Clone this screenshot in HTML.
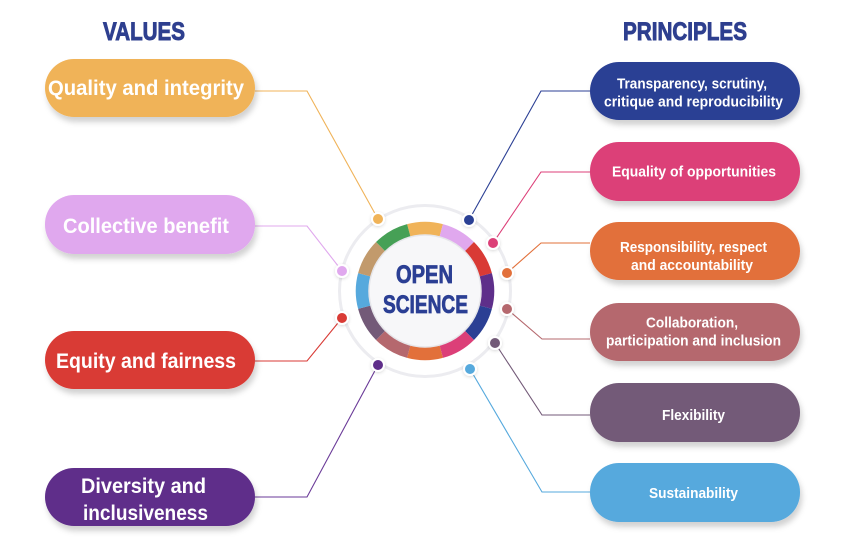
<!DOCTYPE html>
<html><head><meta charset="utf-8"><style>
html,body{margin:0;padding:0;background:#fff;}
svg{display:block;}
text{font-family:"Liberation Sans",sans-serif;font-weight:bold;}
</style></head><body>
<svg width="860" height="551" viewBox="0 0 860 551" xmlns="http://www.w3.org/2000/svg">
<defs>
<filter id="sh" x="-10%" y="-20%" width="125%" height="160%">
<feDropShadow dx="2" dy="5" stdDeviation="3" flood-color="#000" flood-opacity="0.18"/>
</filter>
<filter id="sh2" x="-20%" y="-20%" width="140%" height="140%">
<feDropShadow dx="0" dy="1" stdDeviation="1.5" flood-color="#000" flood-opacity="0.15"/>
</filter>
</defs>
<rect width="860" height="551" fill="#fff"/>

<!-- headers -->
<text x="103" y="40" font-size="25" fill="#2e3f8f" stroke="#2e3f8f" stroke-width="0.9" textLength="82" lengthAdjust="spacingAndGlyphs">VALUES</text>
<text x="623" y="40" font-size="25" fill="#2e3f8f" stroke="#2e3f8f" stroke-width="0.9" textLength="124" lengthAdjust="spacingAndGlyphs">PRINCIPLES</text>

<!-- connectors -->
<g fill="none" stroke-width="1.1">
<polyline points="255,91 307,91 378,219" stroke="#f0b359"/>
<polyline points="255,226 307,226 342,271" stroke="#e0a8ee"/>
<polyline points="255,361 307,361 342,318" stroke="#d93a35"/>
<polyline points="255,497 307,497 378,365" stroke="#6a3a98"/>
<polyline points="590,91 541,91 469,220" stroke="#2b3f94"/>
<polyline points="590,172 541,172 493,243" stroke="#dc3f78"/>
<polyline points="590,243 541,243 507,273" stroke="#e2703a"/>
<polyline points="590,339 542,339 507,309" stroke="#b5686e"/>
<polyline points="590,415 542,415 495,343" stroke="#735a78"/>
<polyline points="590,492 542,492 470,369" stroke="#56a9dd"/>
</g>

<!-- center -->
<circle cx="425" cy="291" r="85.5" fill="none" stroke="#ececf0" stroke-width="3"/>
<g fill="none" stroke-width="13.5">
<circle cx="425" cy="291" r="62.5" stroke="#f0b359" stroke-dasharray="32.73 400" transform="rotate(-105 425 291)"/>
<circle cx="425" cy="291" r="62.5" stroke="#e0a8ee" stroke-dasharray="32.73 400" transform="rotate(-75 425 291)"/>
<circle cx="425" cy="291" r="62.5" stroke="#d93a35" stroke-dasharray="32.73 400" transform="rotate(-45 425 291)"/>
<circle cx="425" cy="291" r="62.5" stroke="#5e2f8a" stroke-dasharray="32.73 400" transform="rotate(-15 425 291)"/>
<circle cx="425" cy="291" r="62.5" stroke="#2b3f94" stroke-dasharray="32.73 400" transform="rotate(15 425 291)"/>
<circle cx="425" cy="291" r="62.5" stroke="#dc3f78" stroke-dasharray="32.73 400" transform="rotate(45 425 291)"/>
<circle cx="425" cy="291" r="62.5" stroke="#e2703a" stroke-dasharray="32.73 400" transform="rotate(75 425 291)"/>
<circle cx="425" cy="291" r="62.5" stroke="#b5686e" stroke-dasharray="32.73 400" transform="rotate(105 425 291)"/>
<circle cx="425" cy="291" r="62.5" stroke="#735a78" stroke-dasharray="32.73 400" transform="rotate(135 425 291)"/>
<circle cx="425" cy="291" r="62.5" stroke="#56a9dd" stroke-dasharray="32.73 400" transform="rotate(165 425 291)"/>
<circle cx="425" cy="291" r="62.5" stroke="#c29a6c" stroke-dasharray="32.73 400" transform="rotate(195 425 291)"/>
<circle cx="425" cy="291" r="62.5" stroke="#46a056" stroke-dasharray="32.73 400" transform="rotate(225 425 291)"/>
</g>
<circle cx="425" cy="291" r="56" fill="#f7f7f9" stroke="#e6e6ea" stroke-width="1.5"/>
<text x="396" y="283" font-size="25" fill="#2b3f94" stroke="#2b3f94" stroke-width="0.8" textLength="57" lengthAdjust="spacingAndGlyphs">OPEN</text>
<text x="383" y="313" font-size="25" fill="#2b3f94" stroke="#2b3f94" stroke-width="0.8" textLength="85" lengthAdjust="spacingAndGlyphs">SCIENCE</text>

<!-- dots -->
<g stroke="#fff" stroke-width="2" filter="url(#sh2)">
<circle cx="378" cy="219" r="6" fill="#f0b359"/>
<circle cx="342" cy="271" r="6" fill="#e0a8ee"/>
<circle cx="342" cy="318" r="6" fill="#d93a35"/>
<circle cx="378" cy="365" r="6" fill="#5e2f8a"/>
<circle cx="469" cy="220" r="6" fill="#2b3f94"/>
<circle cx="493" cy="243" r="6" fill="#dc3f78"/>
<circle cx="507" cy="273" r="6" fill="#e2703a"/>
<circle cx="507" cy="309" r="6" fill="#b5686e"/>
<circle cx="495" cy="343" r="6" fill="#735a78"/>
<circle cx="470" cy="369" r="6" fill="#56a9dd"/>
</g>

<!-- pills -->
<g filter="url(#sh)">
<rect x="45" y="59" width="210" height="58" rx="29" fill="#f0b359"/>
<rect x="45" y="195" width="210" height="59" rx="29" fill="#e0a8ee"/>
<rect x="45" y="331" width="210" height="58" rx="29" fill="#d93a35"/>
<rect x="45" y="468" width="210" height="58" rx="29" fill="#5e2f8a"/>
<rect x="590" y="62" width="210" height="58" rx="29" fill="#2b3f94"/>
<rect x="590" y="142" width="210" height="59" rx="29" fill="#dc3f78"/>
<rect x="590" y="222" width="210" height="58" rx="29" fill="#e2703a"/>
<rect x="590" y="303" width="210" height="58" rx="29" fill="#b5686e"/>
<rect x="590" y="383" width="210" height="59" rx="29" fill="#735a78"/>
<rect x="590" y="463" width="210" height="59" rx="29" fill="#56a9dd"/>
</g>

<g fill="#fff">
<text x="48" y="95" font-size="21" textLength="196" lengthAdjust="spacingAndGlyphs">Quality and integrity</text>
<text x="63" y="233" font-size="21" textLength="166" lengthAdjust="spacingAndGlyphs">Collective benefit</text>
<text x="56" y="368" font-size="21" textLength="180" lengthAdjust="spacingAndGlyphs">Equity and fairness</text>
<text x="81" y="493" font-size="21" textLength="125" lengthAdjust="spacingAndGlyphs">Diversity and</text>
<text x="83" y="520" font-size="21" textLength="125" lengthAdjust="spacingAndGlyphs">inclusiveness</text>

<text x="617" y="88.5" font-size="15" textLength="150" lengthAdjust="spacingAndGlyphs">Transparency, scrutiny,</text>
<text x="604" y="106.5" font-size="15" textLength="179" lengthAdjust="spacingAndGlyphs">critique and reproducibility</text>
<text x="612" y="176.5" font-size="15" textLength="164" lengthAdjust="spacingAndGlyphs">Equality of opportunities</text>
<text x="620" y="252" font-size="15" textLength="147" lengthAdjust="spacingAndGlyphs">Responsibility, respect</text>
<text x="631" y="270" font-size="15" textLength="122" lengthAdjust="spacingAndGlyphs">and accountability</text>
<text x="646" y="327.5" font-size="15" textLength="92" lengthAdjust="spacingAndGlyphs">Collaboration,</text>
<text x="606" y="345.5" font-size="15" textLength="175" lengthAdjust="spacingAndGlyphs">participation and inclusion</text>
<text x="662" y="420" font-size="15" textLength="63" lengthAdjust="spacingAndGlyphs">Flexibility</text>
<text x="649" y="498" font-size="15" textLength="89" lengthAdjust="spacingAndGlyphs">Sustainability</text>
</g>
</svg>
</body></html>
